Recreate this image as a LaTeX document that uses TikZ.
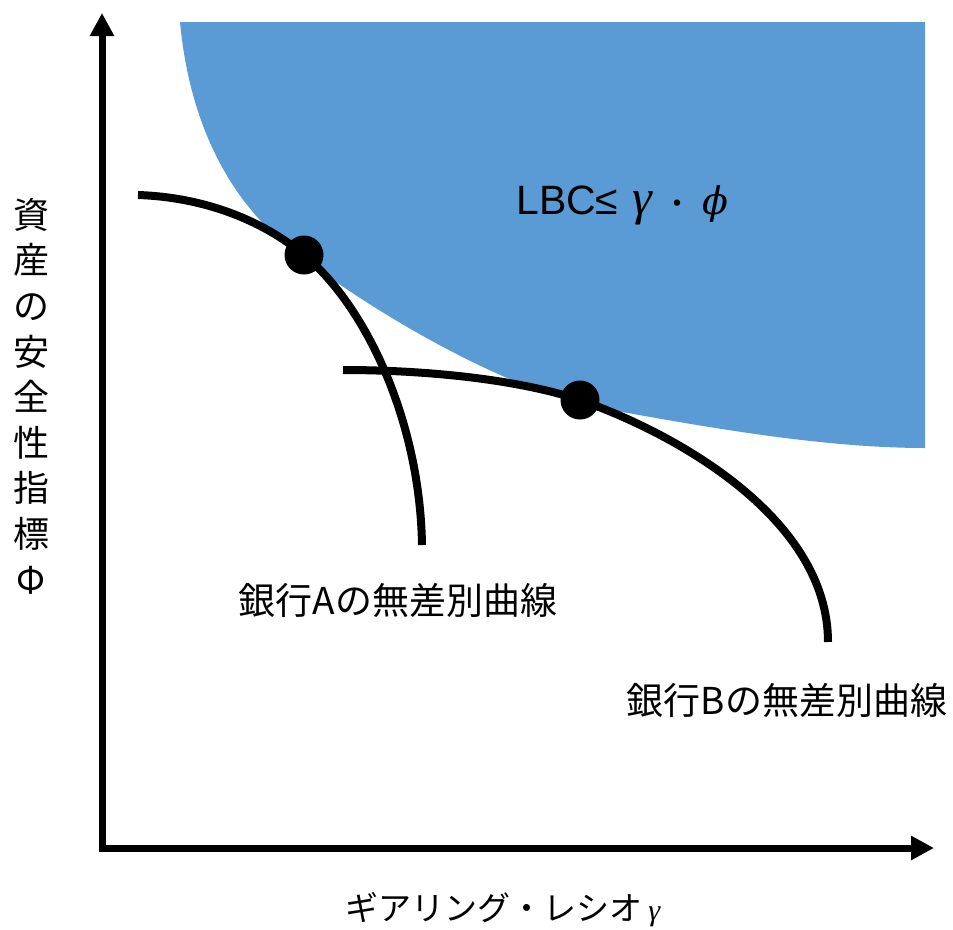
\documentclass[tikz,border=0pt]{standalone}
\usepackage{fontspec}
\newfontfamily\jp{Noto Sans CJK JP}
\newfontfamily\lbcfont{Liberation Sans}
\newfontfamily\grk{Liberation Serif}
\newfontfamily\grkd{DejaVu Serif}
\usetikzlibrary{arrows.meta}
\definecolor{regionblue}{HTML}{5B9BD5}
\tikzset{
  curve/.style={line width=8pt, line cap=butt},
  axisline/.style={line width=7pt, -{Triangle[width=23pt,length=23pt]}},
  dot/.style={circle, fill=black, minimum size=39pt, inner sep=0pt},
  lbl/.style={inner sep=0pt, font=\jp\fontsize{37}{40}\selectfont},
}
\begin{document}
\begin{tikzpicture}[x=1pt,y=-1pt]
\useasboundingbox (0,0) rectangle (953,929);
% admissible region
\fill[regionblue] (180,22) .. controls (190,130) and (235,210) .. (300,255)
  .. controls (355,300) and (500,390) .. (600,408)
  .. controls (700,426) and (820,448) .. (925,448)
  -- (925,22) -- cycle;
% axes
\coordinate (O) at (102,848);
\coordinate (ytip) at (102,13);
\coordinate (xtip) at (934,848);
\draw[line width=7pt] (102,845) -- (O) -- (105,848);
\draw[axisline] (102,851.5) -- (ytip);
\draw[axisline] (98.5,848) -- (xtip);
% indifference curves
\node[dot] (dotA) at (304,255) {};
\node[dot] (dotB) at (580,400) {};
\coordinate (a0) at (138,195);
\coordinate (a1) at (422,545);
\coordinate (b0) at (343,370);
\coordinate (b1) at (828,642);
\draw[curve] (a0) .. controls (200,197) and (260,218) .. (dotA.center)
  .. controls (365,305) and (420,420) .. (a1);
\draw[curve] (b0) .. controls (430,370) and (520,380) .. (dotB.center)
  .. controls (680,435) and (828,520) .. (b1);
% labels
\node[inner sep=0pt, anchor=west] (lbc) at (516,205)
  {\lbcfont\fontsize{41}{42}\selectfont LBC≤\hspace{14pt}{\grk\itshape\fontsize{50}{50}\selectfont γ}\hspace{10pt}{\jp\fontsize{30}{30}\selectfont ・}\hspace{10pt}{\grkd\itshape\fontsize{38}{40}\selectfont ϕ}};
\node[lbl] (labA) at (398,600) {銀行Aの無差別曲線};
\node[lbl] (labB) at (787,700) {銀行Bの無差別曲線};
\node[inner sep=0pt, font=\jp\fontsize{33}{36}\selectfont] (xlab) at (503,910)
  {ギアリング・レシオ\,{\grk\itshape\fontsize{30}{30}\selectfont γ}};
\node[inner sep=0pt, align=center, font=\jp\fontsize{36}{45.6}\selectfont] (ylab) at (31,396)
  {資\\産\\の\\安\\全\\性\\指\\標\\Φ};
\end{tikzpicture}
\end{document}
